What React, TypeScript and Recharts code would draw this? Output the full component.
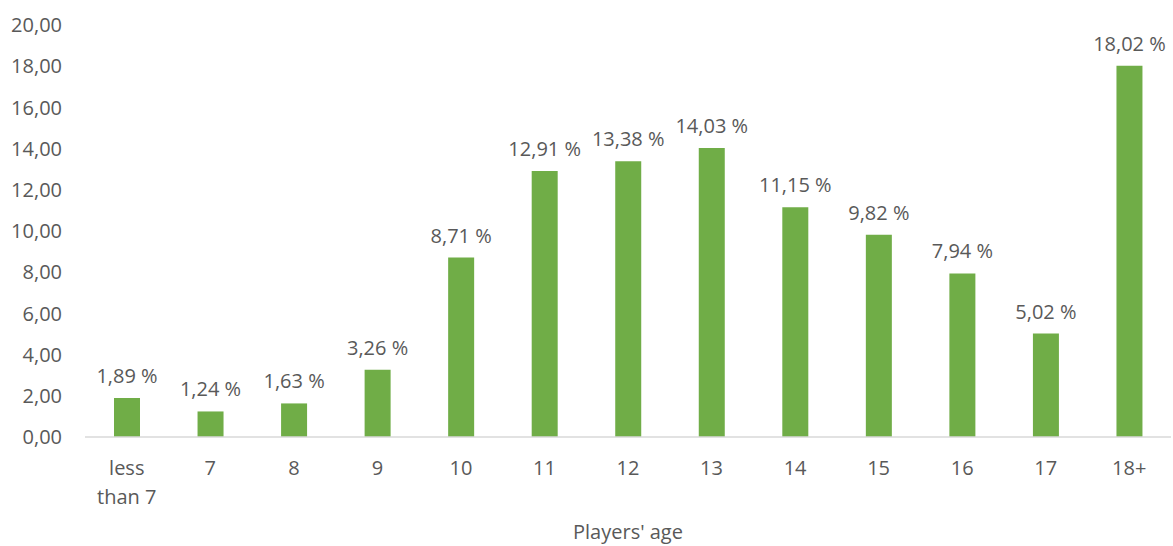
import { BarChart, Bar, XAxis, YAxis, LabelList } from "recharts";

const ages = ["less than 7", "7", "8", "9", "10", "11", "12", "13", "14", "15", "16", "17", "18+"];
const shares = [1.89, 1.24, 1.63, 3.26, 8.71, 12.91, 13.38, 14.03, 11.15, 9.82, 7.94, 5.02, 18.02];
const yTicks = [0, 2, 4, 6, 8, 10, 12, 14, 16, 18, 20];

const data = ages.map((age, i) => ({ age, share: shares[i] }));

const TEXT = "#595959";
const FONT = "'Open Sans', sans-serif";

const comma = (v: number) => v.toFixed(2).replace(".", ",");

function AgeTick({ x, y, payload }: any) {
  const lines = payload.value === "less than 7" ? ["less", "than 7"] : [payload.value];
  return (
    <text x={x} y={y} textAnchor="middle" fill={TEXT} fontSize={20} fontFamily={FONT}>
      {lines.map((l, i) => (
        <tspan key={i} x={x} dy={i === 0 ? 38 : 29}>
          {l}
        </tspan>
      ))}
    </text>
  );
}

// single-line value label above each bar
function ValueLabel({ x, y, width, value }: any) {
  return (
    <text
      x={Number(x) + Number(width) / 2}
      y={Number(y) - 15}
      textAnchor="middle"
      fill={TEXT}
      fontSize={20}
      fontFamily={FONT}
    >
      {`${comma(Number(value))} %`}
    </text>
  );
}

export default function App() {
  return (
    <div style={{ position: "absolute", left: 0, top: 0, background: "#fff" }}>
      <BarChart
        width={1173}
        height={546}
        data={data}
        margin={{ top: 25, right: 2, left: 0, bottom: 0 }}
        style={{ fontFamily: FONT }}
      >
        <XAxis
          dataKey="age"
          height={109}
          tickLine={false}
          tickSize={0}
          tickMargin={0}
          interval={0}
          axisLine={{ stroke: "#d9d9d9", strokeWidth: 1.5 }}
          tick={<AgeTick />}
          label={{
            value: "Players' age",
            position: "insideBottom",
            offset: 7,
            fill: TEXT,
            fontSize: 20,
            fontFamily: FONT,
          }}
        />
        <YAxis
          width={85}
          domain={[0, 20]}
          ticks={yTicks}
          axisLine={false}
          tickLine={false}
          tickSize={0}
          tickMargin={23}
          tickFormatter={comma}
          tick={{ fill: TEXT, fontSize: 20, fontFamily: FONT }}
        />
        <Bar dataKey="share" fill="#70ad47" barSize={26} isAnimationActive={false}>
          <LabelList dataKey="share" content={<ValueLabel />} />
        </Bar>
      </BarChart>
    </div>
  );
}
